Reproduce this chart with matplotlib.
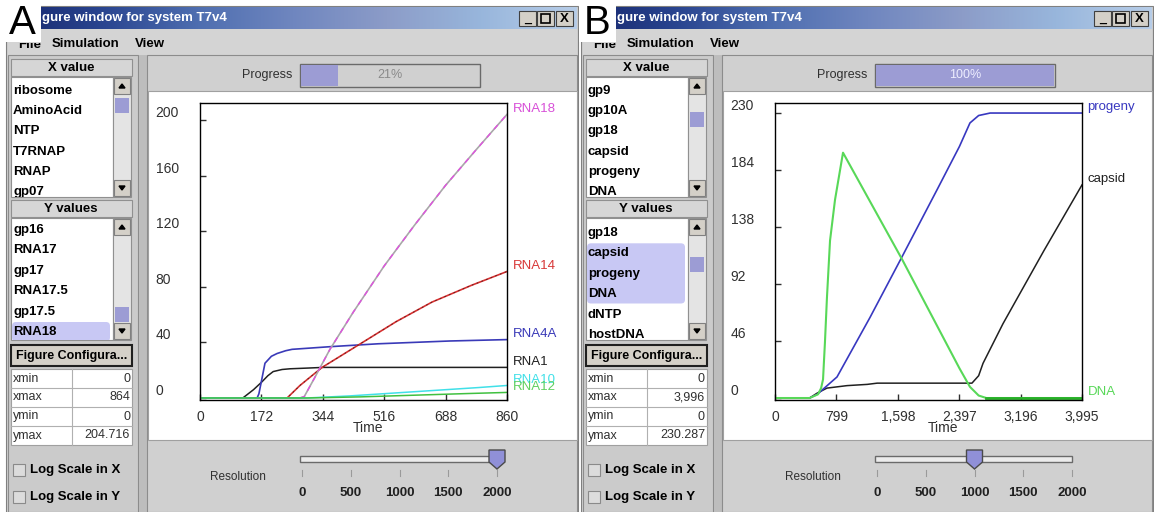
import numpy as np
import matplotlib.pyplot as plt
from matplotlib.patches import Rectangle, Polygon, FancyBboxPatch
from matplotlib.colors import LinearSegmentedColormap

plt.rcParams['font.family'] = ['Liberation Sans', 'DejaVu Sans']

# panel A: T7 RNA species, time 0-860
rna18_t = [0, 280, 292, 320, 364, 430, 516, 600, 688, 775, 860]
rna18 = [0, 0, 1, 14, 35, 62, 95, 124, 153, 179, 204]
rna14_t = [0, 244, 280, 342, 443, 550, 650, 760, 860]
rna14 = [0, 0, 9, 22, 38, 55, 69, 81, 91]
rna4a_t = [0, 160, 165, 172, 182, 200, 216, 240, 258, 370, 500, 700, 860]
rna4a = [0, 0, 3, 12, 25, 30, 32, 34, 35, 37, 39, 41, 42]
rna1_t = [0, 120, 150, 173, 190, 205, 230, 252, 300, 345, 860]
rna1 = [0, 0, 6, 11.5, 16, 19, 20.5, 21, 21.5, 22, 22]
rna10_t = [0, 300, 420, 540, 660, 780, 860]
rna10 = [0, 0, 1.5, 3.5, 5.5, 7.5, 9]
rna12_t = [0, 300, 450, 600, 750, 860]
rna12 = [0, 0, 0.8, 2, 3.2, 4]
a_xticks = [0, 172, 344, 516, 688, 860]
a_yticks = [0, 40, 80, 120, 160, 200]

# panel B: progeny / capsid / DNA, time 0-3995
progeny_t = [0, 450, 550, 807, 1236, 1653, 2108, 2400, 2537, 2650, 2800, 3995]
progeny = [0, 0, 3, 17, 65, 114, 168, 203, 222, 228, 230, 230]
capsid_t = [0, 450, 550, 676, 937, 1200, 1330, 2563, 2650, 2707, 2967, 3500, 3995]
capsid = [0, 0, 4, 8, 10, 11, 12, 12, 18, 28, 60, 119, 172]
dna_t = [0, 450, 560, 600, 625, 650, 676, 716, 781, 885, 1653, 2400, 2537, 2650, 2750, 3995]
dna = [0, 0, 3, 8, 15, 45, 81, 127, 160, 198, 112, 24, 9, 2, 0, 0]
b_xticks = [0, 799, 1598, 2397, 3196, 3995]
b_xticklabels = ['0', '799', '1,598', '2,397', '3,196', '3,995']
b_yticks = [0, 46, 92, 138, 184, 230]

# GUI contents
a_xlist = ['ribosome', 'AminoAcid', 'NTP', 'T7RNAP', 'RNAP', 'gp07']
a_ylist = ['gp16', 'RNA17', 'gp17', 'RNA17.5', 'gp17.5', 'RNA18']
a_cfg = [('xmin', '0'), ('xmax', '864'), ('ymin', '0'), ('ymax', '204.716')]
b_xlist = ['gp9', 'gp10A', 'gp18', 'capsid', 'progeny', 'DNA']
b_ylist = ['gp17', 'gp18', 'capsid', 'progeny', 'DNA', 'dNTP', 'hostDNA']
b_cfg = [('xmin', '0'), ('xmax', '3,996'), ('ymin', '0'), ('ymax', '230.287')]
res_ticks = [0, 500, 1000, 1500, 2000]

W, H = 1154, 512
GRAY = '#d0d0d0'
LAV = '#c8c8f4'
THUMB = '#9c9cd4'

fig = plt.figure(figsize=(W / 100, H / 100), dpi=100, facecolor='white')
bg = fig.add_axes([0, 0, 1, 1])
bg.axis('off')
title_cmap = LinearSegmentedColormap.from_list(
    'tb', ['#17286e', '#2a4590', '#4e6eb0', '#6f86bf', '#8c9cc8', '#98b6dc', '#b7cde8'])


def rect(x, y, w, h, fc, ec='none', lw=1.0, z=1):
    p = Rectangle((x, y), w, h, facecolor=fc, edgecolor=ec, linewidth=lw, zorder=z)
    bg.add_patch(p)
    return p


def txt(x, y, s, size=9.5, weight='normal', color='black', ha='left', clip=None, z=5):
    t = bg.text(x, y, s, fontsize=size, fontweight=weight, color=color,
                ha=ha, va='center', zorder=z)
    if clip is not None:
        t.set_clip_on(True)
        t.set_clip_path(clip)
    return t


def scrollbar(x, y0, y1, thumb_y):
    rect(x, y0, 18, y1 - y0, '#e4e4e4', '#909090', 0.8, 2)
    rect(x + 1, y0 + 1, 16, 16, '#d4d0c8', '#808080', 0.8, 3)
    rect(x + 1, y1 - 17, 16, 16, '#d4d0c8', '#808080', 0.8, 3)
    bg.add_patch(Polygon([[x + 6, y0 + 11], [x + 12, y0 + 11], [x + 9, y0 + 7]],
                         color='black', zorder=4))
    bg.add_patch(Polygon([[x + 6, y1 - 11], [x + 12, y1 - 11], [x + 9, y1 - 7]],
                         color='black', zorder=4))
    rect(x + 2, thumb_y, 14, 15, THUMB, 'none', 0, 3)


def window(dx, letter, xitems, yitems, ystart, yhi, cfg, frac, pct, pct_color,
           res, xthumb, ythumb):
    # frame + title bar
    rect(dx + 6, 6, 572, 506, GRAY, '#808080', 0.8, 0)
    grad = np.linspace(0, 1, 256).reshape(1, -1)
    bg.imshow(grad, extent=(dx + 8, dx + 577, 29, 7), aspect='auto',
              cmap=title_cmap, zorder=1)
    txt(dx + 42, 18, 'gure window for system T7v4', 9.5, 'bold', 'white')
    for bx in [dx + 519, dx + 537, dx + 556]:
        rect(bx, 11, 17, 15, '#d4d0c8', '#404040', 0.8, 3)
    txt(dx + 527.5, 19, '_', 9, 'bold', ha='center')
    rect(dx + 541, 14, 9, 9, 'none', 'black', 1.2, 4)
    txt(dx + 564.5, 18.5, 'X', 9.5, 'bold', ha='center')

    # menu bar
    mb = rect(dx + 8, 29, 569, 26, '#d4d4d4', 'none', 0, 1)
    visible = rect(dx + 8, 42.5, 40, 12, 'none', 'none', 0, 0)
    txt(dx + 18, 45.5, 'File', 9.5, 'bold', clip=visible)
    txt(dx + 52, 44, 'Simulation', 9.5, 'bold')
    txt(dx + 135, 44, 'View', 9.5, 'bold')

    # panel letter
    rect(dx + 4, 3, 37, 39, 'white', 'none', 0, 6)
    txt(dx + 22.5, 23.5, letter, 29, 'normal', ha='center', z=7)

    # left panel
    rect(dx + 8, 55, 130, 457, '#cbcbcb', '#8c8c8c', 0.8, 1)
    rect(dx + 11, 59, 121, 17, '#d6d6d6', '#909090', 0.8, 2)
    txt(dx + 71, 68, 'X value', 9.5, 'bold', ha='center')
    xl = rect(dx + 11, 77, 102, 120, 'white', '#909090', 0.8, 2)
    for i, s in enumerate(xitems):
        txt(dx + 13, 91 + 20.2 * i, s, 9.5, 'bold', clip=xl)
    scrollbar(dx + 113, 77, 197, xthumb)

    rect(dx + 11, 200, 121, 17, '#d6d6d6', '#909090', 0.8, 2)
    txt(dx + 71, 209, 'Y values', 9.5, 'bold', ha='center')
    yl = rect(dx + 11, 218, 102, 122, 'white', '#909090', 0.8, 2)
    h0, h1 = yhi
    hl = FancyBboxPatch((dx + 12, ystart + 20.4 * h0 - 10), 98,
                        20.4 * (h1 - h0 + 1) - 1,
                        boxstyle='round,pad=0,rounding_size=4',
                        facecolor=LAV, edgecolor='none', zorder=3)
    bg.add_patch(hl)
    hl.set_clip_path(yl)
    for i, s in enumerate(yitems):
        txt(dx + 13, ystart + 20.4 * i, s, 9.5, 'bold', clip=yl)
    scrollbar(dx + 113, 218, 340, ythumb)

    rect(dx + 11, 345, 121, 21, '#d4d0c8', '#202020', 1.5, 2)
    txt(dx + 71.5, 356, 'Figure Configura...', 9, 'bold', ha='center')
    rect(dx + 11, 369, 121, 76, 'white', '#a0a0a0', 0.8, 2)
    for i, (k, v) in enumerate(cfg):
        y = 369 + 19 * i
        if i > 0:
            bg.plot([dx + 11, dx + 132], [y, y], color='#b0b0b0', lw=0.8, zorder=3)
        txt(dx + 13, y + 9.5, k, 9, color='#303030')
        txt(dx + 130, y + 9.5, v, 9, color='#303030', ha='right')
    bg.plot([dx + 72, dx + 72], [369, 445], color='#b0b0b0', lw=0.8, zorder=3)
    for y, s in [(470, 'Log Scale in X'), (497, 'Log Scale in Y')]:
        rect(dx + 13, y - 6, 12, 12, '#dcdcdc', '#8a8a8a', 0.8, 2)
        txt(dx + 30, y, s, 9.5, 'bold')

    # splitter
    rect(dx + 139, 55, 8, 457, '#bdbdbd', 'none', 0, 1)

    # plot panel
    rect(dx + 147, 55, 430, 457, GRAY, '#8c8c8c', 0.8, 1)
    txt(dx + 292, 75, 'Progress', 9, color='#303030', ha='right')
    rect(dx + 300, 64, 180, 23, '#d0d0d0', '#6a6a6a', 1.0, 2)
    rect(dx + 301, 65, 178 * frac, 21, THUMB, 'none', 0, 3)
    txt(dx + 390, 75.5, pct, 9, color=pct_color, ha='center')
    rect(dx + 148, 91, 429, 349, 'white', '#a0a0a0', 0.8, 2)

    # resolution slider
    txt(dx + 238, 477, 'Resolution', 8.5, color='#303030', ha='center')
    rect(dx + 300, 456, 197, 6, '#ececec', '#6a6a6a', 1.0, 2)
    for v in res_ticks:
        x = dx + 302 + v * 0.0975
        bg.plot([x, x], [470, 476], color='#9a9a9a', lw=0.8, zorder=2)
        txt(x, 493, str(v), 9.5, 'bold', color='#202020', ha='center')
    tx = dx + 302 + res * 0.0975
    bg.add_patch(Polygon([[tx - 8, 450], [tx + 8, 450], [tx + 8, 462], [tx, 469],
                          [tx - 8, 462]], facecolor='#9090d8', edgecolor='#4a4a4a',
                         linewidth=1.0, zorder=4))


window(0, 'A', a_xlist, a_ylist, 230, (5, 5), a_cfg, 0.21, '21%', '#8a8a8a', 2000, 98, 307)
window(575, 'B', b_xlist, b_ylist, 212.5, (2, 4), b_cfg, 1.0, '100%', '#eeeeff', 1000, 112, 257)
bg.set_xlim(0, W)
bg.set_ylim(H, 0)


def px_axes(x0, y0, x1, y1):
    return fig.add_axes([x0 / W, 1 - y1 / H, (x1 - x0) / W, (y1 - y0) / H])


def style(ax, xticks, xlabels, yticks):
    ax.set_facecolor('none')
    for sp in ax.spines.values():
        sp.set_color('black')
        sp.set_linewidth(1.0)
    ax.set_xticks(xticks)
    ax.set_xticklabels(xlabels)
    ax.set_yticks(yticks)
    ax.set_yticklabels([str(v) for v in yticks])
    ax.tick_params(direction='in', length=4, width=1, labelsize=10,
                   labelcolor='#303030', color='#303030')
    ax.tick_params(axis='y', pad=32)
    ax.tick_params(axis='x', pad=7)
    for lb in ax.get_yticklabels():
        lb.set_horizontalalignment('left')
        lb.set_verticalalignment('bottom')
    ax.set_xlabel('Time', fontsize=10, color='#303030')
    ax.xaxis.label.set_verticalalignment('center')
    ax.xaxis.set_label_coords(0.547, -0.094)


def end_label(ax, name, y, color):
    ax.annotate(name, xy=(1, y), xycoords=('axes fraction', 'data'),
                xytext=(4, 4), textcoords='offset points', va='center',
                fontsize=9.5, color=color, annotation_clip=False)


# panel A plot
axA = px_axes(200, 103, 507, 400)
axA.plot(rna1_t, rna1, color='#202020', lw=1.1)
axA.plot(rna4a_t, rna4a, color='#3a3ab8', lw=1.2)
axA.plot(rna14_t, rna14, color='#d83030', lw=1.2)
axA.plot(rna14_t, rna14, color='#502020', lw=0.6, dashes=(2, 4))
axA.plot(rna18_t, rna18, color='#a8a8a8', lw=1.2)
axA.plot(rna18_t, rna18, color='#e050e0', lw=1.0, dashes=(4, 4))
axA.plot(rna10_t, rna10, color='#40e0e8', lw=1.1)
axA.plot(rna12_t, rna12, color='#40c040', lw=1.1)
axA.set_xlim(0, 860)
axA.set_ylim(-1.45, 212.2)
style(axA, a_xticks, [str(v) for v in a_xticks], a_yticks)
end_label(axA, 'RNA18', rna18[-1], '#d850d8')
end_label(axA, 'RNA14', rna14[-1], '#d83838')
end_label(axA, 'RNA4A', rna4a[-1], '#3a3ab8')
end_label(axA, 'RNA1', rna1[-1], '#202020')
end_label(axA, 'RNA10', rna10[-1], '#40e0e8')
end_label(axA, 'RNA12', rna12[-1], '#60d060')

# panel B plot
axB = px_axes(775, 103, 1082, 400)
axB.plot(capsid_t, capsid, color='#202020', lw=1.1)
axB.plot(progeny_t, progeny, color='#3838c0', lw=1.2)
axB.plot(dna_t, dna, color='#58d858', lw=1.5)
axB.plot(dna_t[-2:], dna[-2:], color='#28b028', lw=2.0)
axB.set_xlim(0, 3995)
axB.set_ylim(-1.6, 238.1)
style(axB, b_xticks, b_xticklabels, b_yticks)
end_label(axB, 'progeny', progeny[-1], '#3838c0')
end_label(axB, 'capsid', capsid[-1], '#202020')
end_label(axB, 'DNA', dna[-1], '#58d858')

fig.savefig('out.png', dpi=100, facecolor='white')
